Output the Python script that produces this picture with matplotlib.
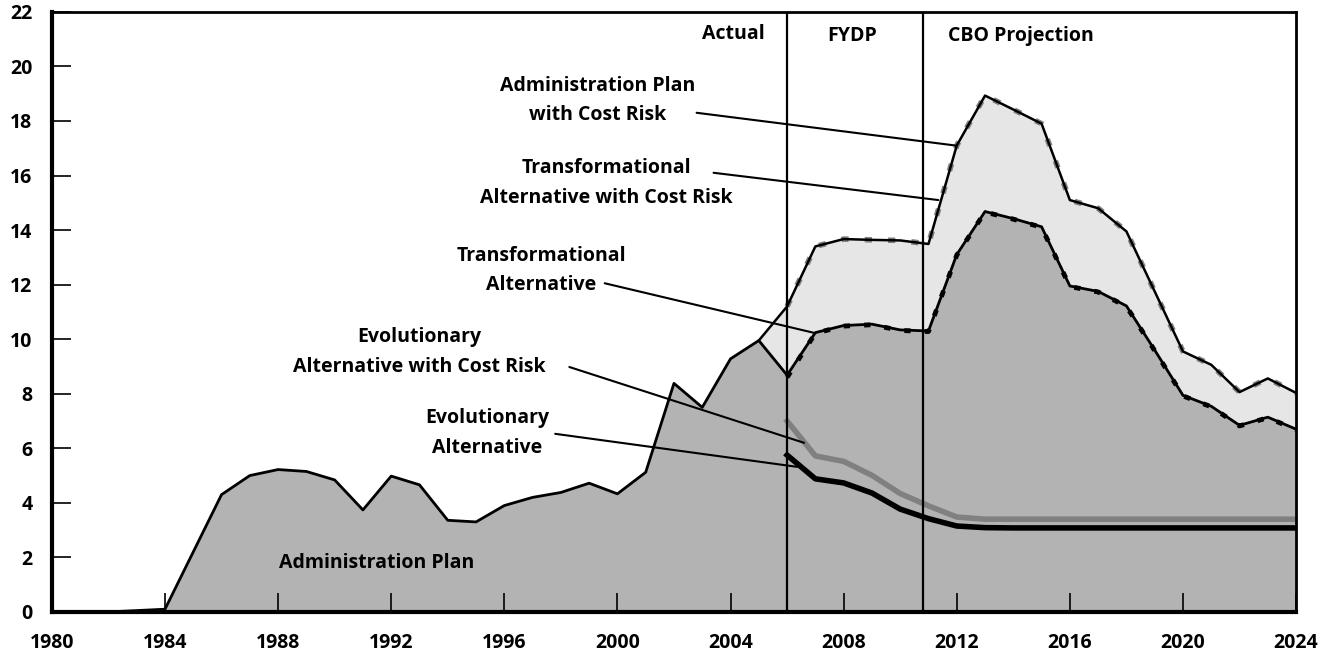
import matplotlib
matplotlib.use("Agg")
import matplotlib.pyplot as plt

plt.rcParams['font.family'] = ['Open Sans', 'DejaVu Sans']
plt.rcParams['font.weight'] = 'bold'

# actual + planned years
years = list(range(1980, 2025))
admin_plan = [0, 0, 0, 0.05, 0.1, 2.2, 4.3, 5.0, 5.22, 5.15, 4.84, 3.74, 4.98, 4.66, 3.36,
              3.3, 3.9, 4.2, 4.38, 4.72, 4.33, 5.12, 8.38, 7.5, 9.28, 9.95, 8.68,
              10.24, 10.5, 10.55, 10.34, 10.3, 13.1, 14.68, 14.42, 14.12, 11.95, 11.75,
              11.22, 9.6, 7.94, 7.54, 6.84, 7.14, 6.7]

# alternatives, 2005/2006 onward
risk_years = list(range(2005, 2025))
admin_risk = [9.95, 11.2, 13.4, 13.67, 13.64, 13.62, 13.49, 17.1, 18.93, 18.42, 17.9,
              15.1, 14.8, 13.95, 11.75, 9.55, 9.06, 8.06, 8.56, 8.03]

alt_years = list(range(2006, 2025))
trans_risk = [11.2, 13.4, 13.67, 13.64, 13.62, 13.49, 17.1, 18.93, 18.42, 17.9,
              15.1, 14.8, 13.95, 11.75, 9.55, 9.06, 8.06, 8.56, 8.03]
trans = [8.6, 10.22, 10.48, 10.53, 10.32, 10.28, 13.08, 14.66, 14.4, 14.1, 11.93, 11.73,
         11.2, 9.58, 7.92, 7.52, 6.82, 7.12, 6.68]
evol_risk = [7.0, 5.72, 5.52, 5.01, 4.34, 3.89, 3.48, 3.4, 3.4, 3.4, 3.4, 3.4, 3.4, 3.4,
             3.4, 3.4, 3.4, 3.4, 3.4]
evol = [5.75, 4.88, 4.73, 4.36, 3.77, 3.42, 3.15, 3.09, 3.08, 3.08, 3.08, 3.08, 3.08,
        3.08, 3.08, 3.08, 3.08, 3.08, 3.08]

period_lines = [2006, 2010.8]

fig = plt.figure(figsize=(13.3, 6.58), dpi=100)
ax = fig.add_axes([0.039, 0.07, 0.9355, 0.912])

admin_2005 = admin_plan[years.index(2005):]
ax.fill_between(risk_years, admin_2005, admin_risk, color='#e6e6e6', lw=0, zorder=1)
ax.fill_between(years, 0, admin_plan, color='#b3b3b3', lw=0, zorder=1)

ax.plot(alt_years, trans_risk, color='#808080', lw=4, ls=(0, (1.3, 2.9)), zorder=3)
ax.plot(risk_years, admin_risk, color='black', lw=1.8, zorder=4)
ax.plot(alt_years, trans, color='black', lw=3.5, ls=(0, (1.3, 2.9)), zorder=3)
ax.plot(years, admin_plan, color='black', lw=2, zorder=4)
ax.plot(alt_years, evol_risk, color='#808080', lw=4, zorder=5)
ax.plot(alt_years, evol, color='black', lw=4, zorder=5)

for x in period_lines:
    ax.axvline(x, color='black', lw=1.6, zorder=6)

ax.set_xlim(1980, 2024)
ax.set_ylim(0, 22)
ax.set_xticks(range(1980, 2025, 4))
ax.set_yticks(range(0, 23, 2))
ax.tick_params(direction='in', length=14, width=1.2, labelsize=14)
ax.tick_params(axis='x', pad=15)
ax.tick_params(axis='y', pad=14)
for lab in ax.get_xticklabels() + ax.get_yticklabels():
    lab.set_fontweight('bold')
ax.spines['left'].set_linewidth(3)
ax.spines['bottom'].set_linewidth(3)
ax.spines['top'].set_linewidth(2)
ax.spines['right'].set_linewidth(2)
for s in ax.spines.values():
    s.set_zorder(7)

fs = 14
ax.text(2005.2, 21.2, 'Actual', ha='right', va='center', fontsize=fs, fontweight='bold')
ax.text(2008.3, 21.1, 'FYDP', ha='center', va='center', fontsize=fs, fontweight='bold')
ax.text(2011.7, 21.1, 'CBO Projection', ha='left', va='center', fontsize=fs, fontweight='bold')

labels = [
    ('Administration Plan\nwith Cost Risk', (1999.3, 18.75), (2002.8, 18.3), (2011.95, 17.1)),
    ('Transformational\nAlternative with Cost Risk', (1999.6, 15.73), (2003.4, 16.1), (2011.35, 15.1)),
    ('Transformational\nAlternative', (1997.3, 12.52), (1999.55, 12.05), (2007.0, 10.22)),
    ('Evolutionary\nAlternative with Cost Risk', (1993.0, 9.52), (1998.3, 8.98), (2006.6, 6.2)),
    ('Evolutionary\nAlternative', (1995.4, 6.55), (1997.8, 6.53), (2006.35, 5.32)),
]
for text, tpos, start, end in labels:
    ax.text(tpos[0], tpos[1], text, ha='center', va='center', fontsize=fs,
            fontweight='bold', linespacing=1.65)
    ax.annotate('', xy=end, xytext=start,
                arrowprops=dict(arrowstyle='-', lw=1.5, color='black',
                                shrinkA=0, shrinkB=0), zorder=8)

ax.text(1991.5, 1.8, 'Administration Plan', ha='center', va='center', fontsize=fs,
        fontweight='bold')

fig.savefig('out.png', dpi=100)
